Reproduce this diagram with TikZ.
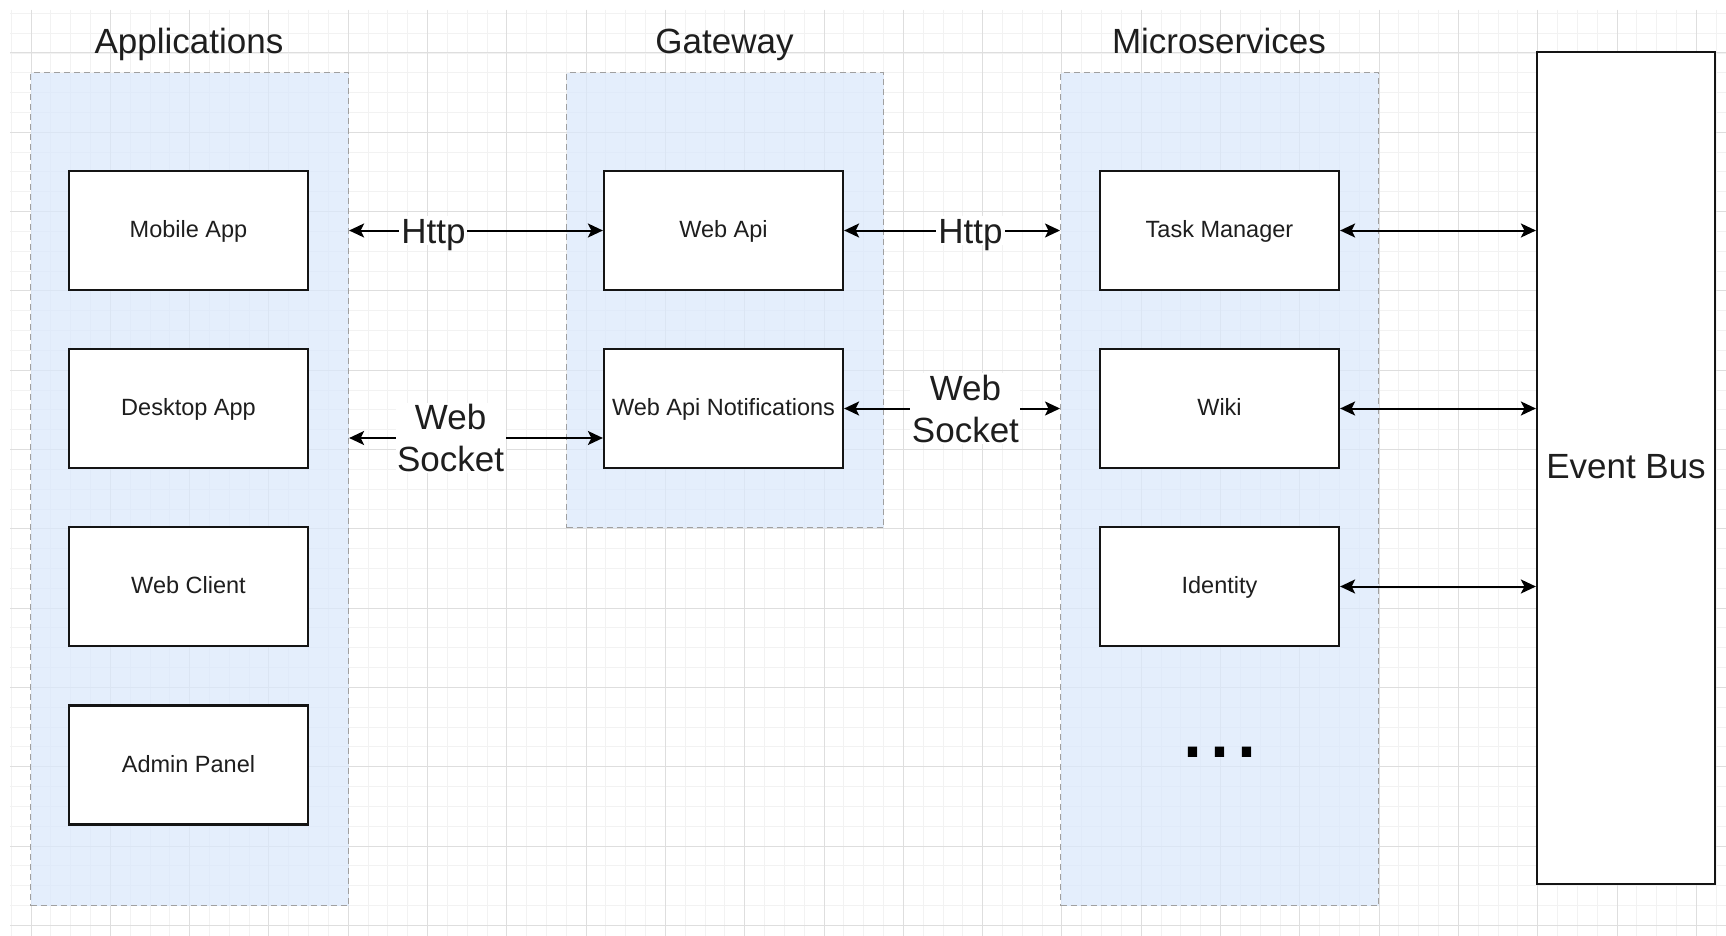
\documentclass[tikz,border=0pt]{standalone}
\usepackage{fontspec}
\setmainfont{Liberation Sans}
\usetikzlibrary{arrows.meta,calc}
\definecolor{gridminor}{HTML}{F2F2F2}
\definecolor{gridmajor}{HTML}{DEDEDE}
\definecolor{contfill}{HTML}{DAE8FC}
\definecolor{contborder}{HTML}{A0A0A0}
\definecolor{txt}{HTML}{1E1E1E}
\definecolor{boxline}{HTML}{141414}
\begin{document}
\begin{tikzpicture}[x=1pt,y=-1pt,
  container/.style={draw=contborder, line width=1.1pt, dash pattern=on 6pt off 4pt,
    fill=contfill, fill opacity=0.72, anchor=north west, inner sep=0pt},
  svc/.style={draw=boxline, line width=2.2pt, fill=white, minimum width=239pt,
    minimum height=119pt, inner sep=0pt, font=\fontsize{23.5}{28}\selectfont,
    text=txt, text height=14pt, text depth=0pt},
  bustyle/.style={draw=boxline, line width=2.2pt, fill=white, minimum width=178pt,
    minimum height=832pt, inner sep=0pt, font=\fontsize{35}{42}\selectfont,
    text=txt, text height=21pt, text depth=0pt},
  grouptitle/.style={font=\fontsize{35}{42}\selectfont, text=txt, anchor=base, inner sep=0pt},
  lblone/.style={font=\fontsize{35}{42}\selectfont, text=txt, fill=white,
    inner sep=2pt, text height=25pt, text depth=0pt},
  lbltwo/.style={font=\fontsize{35}{42}\selectfont, text=txt, fill=white,
    inner sep=1.5pt, align=center},
  link/.style={line width=2pt, draw=black,
    {Stealth[length=15pt,width=14pt,inset=3.5pt]}-{Stealth[length=15pt,width=14pt,inset=3.5pt]}}
]
\useasboundingbox (0,0) rectangle (1726,936);
\fill[white] (0,0) rectangle (1726,936);
% grid
\foreach \i in {-1,...,85} \draw[gridminor, line width=0.9pt] ({31+\i*19.825},10) -- ({31+\i*19.825},936);
\foreach \j in {-2,...,44} \draw[gridminor, line width=0.9pt] (10,{53+\j*19.825}) -- (1726,{53+\j*19.825});
\foreach \i in {0,4,...,84} \draw[gridmajor, line width=1pt] ({31+\i*19.825},10) -- ({31+\i*19.825},936);
\foreach \j in {0,4,...,44} \draw[gridmajor, line width=1pt] (10,{53+\j*19.825}) -- (1726,{53+\j*19.825});

% containers
\node[container, minimum width=318pt, minimum height=833pt] (apps) at (30,72) {};
\node[container, minimum width=317pt, minimum height=455pt] (gw) at (566,72) {};
\node[container, minimum width=318pt, minimum height=833pt] (ms) at (1060,72) {};

% titles
\node[grouptitle] (tapps) at (189,54) {Applications};
\node[grouptitle] (tgw) at (724.5,54) {Gateway};
\node[grouptitle] (tms) at (1219,54) {Microservices};

% application boxes
\node[svc] (mobile) at (188.5,230.5) {Mobile App};
\node[svc] (desktop) at (188.5,408.5) {Desktop App};
\node[svc] (webclient) at (188.5,586.5) {Web Client};
\node[svc] (admin) at (188.5,765) {Admin Panel};

% gateway boxes
\node[svc] (webapi) at (723.5,230.5) {Web Api};
\node[svc] (notif) at (723.5,408.5) {Web Api Notifications};

% microservice boxes
\node[svc] (tm) at (1219.5,230.5) {Task Manager};
\node[svc] (wiki) at (1219.5,408.5) {Wiki};
\node[svc] (identity) at (1219.5,586.5) {Identity};
\node[font=\fontsize{97}{100}\selectfont, text=black, anchor=base, inner sep=0pt] (more) at (1220,757) {...};

% event bus
\node[bustyle] (bus) at (1626,468) {Event Bus};

% connectors
\draw[link] (mobile -| apps.east) -- node[lblone, pos=0.332] (lhttp) {Http} (webapi.west);
\coordinate (wsr) at ([yshift=-29.5pt]notif.west);
\draw[link] (wsr -| apps.east) -- node[lbltwo, pos=0.40] (lws) {Web\\Socket} (wsr);
\draw[link] (webapi.east) -- node[lblone, pos=0.585] (rhttp) {Http} (webapi.east -| ms.west);
\draw[link] (notif.east) -- node[lbltwo, pos=0.562] (rws) {Web\\Socket} (notif.east -| ms.west);
\draw[link] (tm.east) -- (tm.east -| bus.west);
\draw[link] (wiki.east) -- (wiki.east -| bus.west);
\draw[link] (identity.east) -- (identity.east -| bus.west);
\end{tikzpicture}
\end{document}
